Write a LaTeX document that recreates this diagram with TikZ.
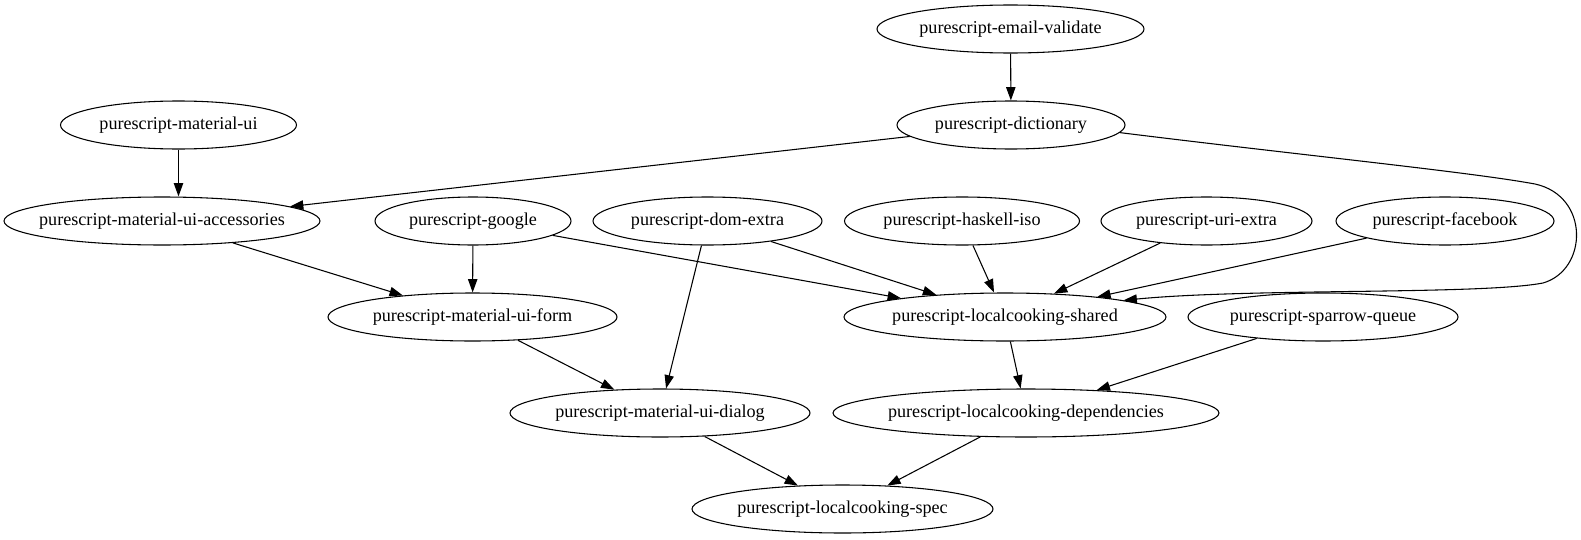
\documentclass[tikz,border=0pt]{standalone}
\usepackage{fontspec}
\setmainfont{Liberation Serif}
\usetikzlibrary{shapes.geometric,arrows.meta}
\tikzset{
  pkg/.style={draw,ellipse,line width=0.8pt,inner xsep=-20pt,inner ysep=0pt,
    minimum height=36pt,minimum width=#1*0.75pt,font=\fontsize{13.6}{16}\selectfont},
  link/.style={-{Triangle[length=10pt,width=7pt]},line width=0.8pt},
}
\begin{document}
\begin{tikzpicture}[x=0.75pt,y=-0.75pt]
\useasboundingbox (0,0) rectangle (1581,539);

\node[pkg=267] (emailvalidate) at (1010.5,29) {purescript-email-validate};
\node[pkg=228] (dictionary) at (1011,125) {purescript-dictionary};
\node[pkg=236] (materialui) at (178.5,125) {purescript-material-ui};

\node[pkg=316] (accessories) at (162,221) {purescript-material-ui-accessories};
\node[pkg=196] (google) at (473,221) {purescript-google};
\node[pkg=229] (domextra) at (707.5,221) {purescript-dom-extra};
\node[pkg=235] (haskelliso) at (962,221) {purescript-haskell-iso};
\node[pkg=211] (uriextra) at (1206.5,221) {purescript-uri-extra};
\node[pkg=218] (facebook) at (1445,221) {purescript-facebook};

\node[pkg=289] (form) at (472.5,317) {purescript-material-ui-form};
\node[pkg=322] (shared) at (1005,317) {purescript-localcooking-shared};
\node[pkg=270] (sparrowqueue) at (1323,317) {purescript-sparrow-queue};

\node[pkg=300] (dialog) at (660,413) {purescript-material-ui-dialog};
\node[pkg=386] (dependencies) at (1026,413) {purescript-localcooking-dependencies};

\node[pkg=301] (spec) at (842.5,509) {purescript-localcooking-spec};

\draw[link] (emailvalidate) -- (dictionary);
\draw[link] (materialui.south) -- (materialui.south |- accessories.north);
\draw[link] (dictionary) -- (accessories);
\draw[link] (dictionary.-4) .. controls (1300,155) and (1470,172) .. (1535,184)
  .. controls (1590,196) and (1588,270) .. (1543,283)
  .. controls (1480,295) and (1250,288) .. (shared.8);

\draw[link] (accessories) -- (form);
\draw[link] (google) -- (form);
\draw[link] (google) -- (shared);
\draw[link] (domextra) -- (dialog);
\draw[link] (domextra) -- (shared);
\draw[link] (haskelliso) -- (shared);
\draw[link] (uriextra) -- (shared);
\draw[link] (facebook) -- (shared);

\draw[link] (form) -- (dialog);
\draw[link] (shared) -- (dependencies);
\draw[link] (sparrowqueue) -- (dependencies);
\draw[link] (dialog) -- (spec);
\draw[link] (dependencies) -- (spec);
\end{tikzpicture}
\end{document}
